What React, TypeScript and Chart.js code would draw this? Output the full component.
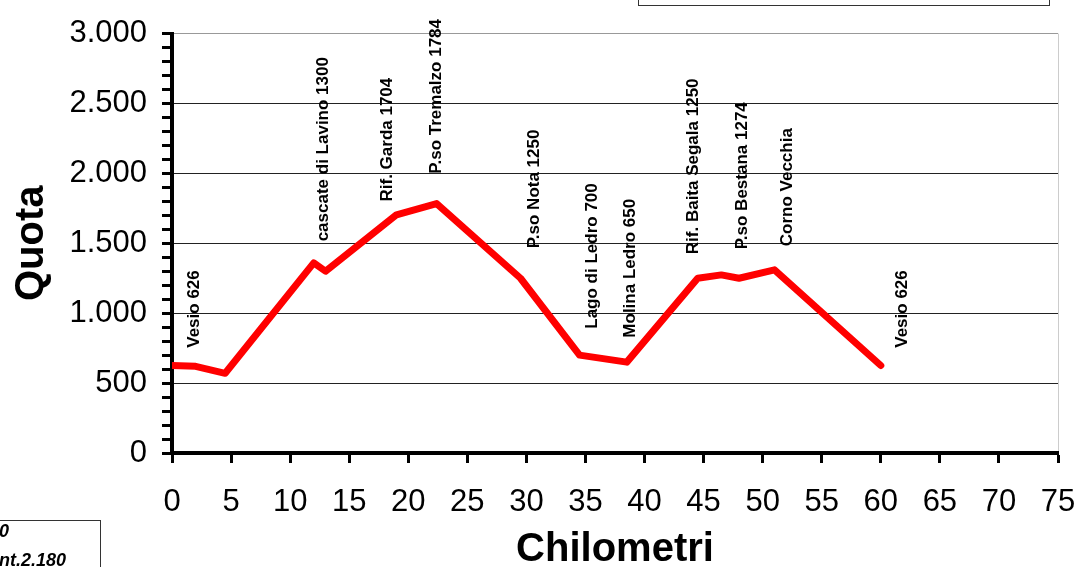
import React, { useEffect, useRef } from 'react';
import { Chart, registerables } from 'chart.js';

Chart.register(...registerables);

// Route profile: kilometres and altitude (m)
const km = [0, 2, 4.5, 12, 13, 19, 22.4, 29.5, 34.5, 38.5, 44.5, 46.5, 48, 51, 60];
const quota = [626, 620, 570, 1360, 1300, 1704, 1784, 1250, 700, 650, 1250, 1274, 1250, 1310, 626];

// Place labels (rotated text) anchored in data units
const placeNames = [
  'Vesio 626',
  'cascate di Lavino 1300',
  'Rif. Garda 1704',
  'P.so Tremalzo 1784',
  'P.so Nota 1250',
  'Lago di Ledro 700',
  'Molina Ledro 650',
  'Rif. Baita Segala 1250',
  'P.so Bestana 1274',
  'Corno Vecchia',
  'Vesio 626',
];
const placeKm = [1.9, 12.8, 18.2, 22.4, 30.7, 35.6, 38.8, 44.1, 48.3, 52.1, 61.8];
const placeQuota = [753, 1514, 1799, 1998, 1464, 889, 825, 1422, 1457, 1479, 753];

// Partially visible note box text
const noteLines = ['0', 'nt.2.180'];

const FONT = "'Liberation Sans', Arial, sans-serif";

const fmtThousands = (v: number) => {
  const s = String(Math.round(v));
  return s.replace(/\B(?=(\d{3})+(?!\d))/g, '.');
};

const labelsPlugin = {
  id: 'placeLabels',
  afterDatasetsDraw(chart: any) {
    const { ctx, scales } = chart;
    const xs = scales.x;
    const ys = scales.y;
    ctx.save();
    ctx.fillStyle = '#000';
    ctx.font = `bold 17px ${FONT}`;
    ctx.textAlign = 'left';
    ctx.textBaseline = 'middle';
    placeNames.forEach((name, i) => {
      const px = xs.getPixelForValue(placeKm[i]);
      const py = ys.getPixelForValue(placeQuota[i]);
      ctx.save();
      ctx.translate(px, py);
      ctx.rotate(-Math.PI / 2);
      ctx.fillText(name, 0, 0);
      ctx.restore();
    });
    ctx.restore();
  },
  afterDraw(chart: any) {
    const { ctx } = chart;
    ctx.save();
    ctx.strokeStyle = '#333';
    ctx.lineWidth = 1;
    ctx.strokeRect(638.5, -5, 411, 10.5);
    ctx.strokeRect(-5, 520.5, 105.5, 60);
    ctx.fillStyle = '#000';
    ctx.font = `italic bold 18px ${FONT}`;
    ctx.textAlign = 'left';
    ctx.textBaseline = 'alphabetic';
    ctx.fillText(noteLines[0], -1, 537);
    ctx.fillText(noteLines[1], -1, 566);
    ctx.restore();
  },
};

export default function App() {
  const canvasRef = useRef<HTMLCanvasElement | null>(null);

  useEffect(() => {
    if (!canvasRef.current) return;
    Chart.defaults.font.family = FONT;
    const chart = new Chart(canvasRef.current, {
      type: 'line',
      data: {
        datasets: [
          {
            data: km.map((k, i) => ({ x: k, y: quota[i] })),
            borderColor: '#FF0000',
            borderWidth: 7,
            pointRadius: 0,
            tension: 0,
            borderJoinStyle: 'round',
            borderCapStyle: 'round',
            fill: false,
          },
        ],
      },
      options: {
        animation: false,
        responsive: false,
        maintainAspectRatio: false,
        layout: { padding: { top: 31, right: 0, left: 0, bottom: 0 } },
        plugins: {
          legend: { display: false },
          tooltip: { enabled: false },
        },
        scales: {
          x: {
            type: 'linear',
            min: 0,
            max: 75,
            afterFit: (s: any) => {
              s.height = 114;
              s.paddingLeft = 0;
              s.paddingRight = 20;
            },
            ticks: {
              stepSize: 5,
              autoSkip: false,
              maxRotation: 0,
              color: '#000',
              padding: 21,
              font: { size: 31 },
            },
            grid: {
              drawOnChartArea: true,
              color: (c: any) => (c.tick && c.tick.value === 75 ? '#cccccc' : 'rgba(0,0,0,0)'),
              tickColor: '#000',
              tickLength: 10,
              tickWidth: 3,
              lineWidth: 1,
            },
            border: { display: true, color: '#000', width: 4 },
            title: {
              display: true,
              text: 'Chilometri',
              color: '#000',
              font: { size: 40, weight: 'bold', lineHeight: 0.6 },
              padding: { top: 0, bottom: 5 },
            },
          },
          y: {
            type: 'linear',
            min: 0,
            max: 3000,
            afterFit: (s: any) => {
              s.width = 172;
            },
            ticks: {
              stepSize: 100,
              autoSkip: false,
              color: '#000',
              padding: 15,
              font: { size: 31 },
              callback: (v: any) => (Number(v) % 500 === 0 ? fmtThousands(Number(v)) : ''),
            },
            grid: {
              drawOnChartArea: true,
              color: (c: any) => {
                const v = c.tick ? c.tick.value : -1;
                if (v === 3000) return '#999999';
                return v % 500 === 0 ? '#222222' : 'rgba(0,0,0,0)';
              },
              tickColor: '#000',
              tickLength: 10,
              tickWidth: 3,
              lineWidth: 1,
            },
            border: { display: true, color: '#000', width: 4 },
            title: {
              display: true,
              text: 'Quota',
              color: '#000',
              font: { size: 40, weight: 'bold', lineHeight: 1.2 },
              padding: { top: 8, bottom: 0 },
            },
          },
        },
      },
      plugins: [labelsPlugin],
    } as any);
    return () => chart.destroy();
  }, []);

  return (
    <div style={{ position: 'fixed', left: 0, top: 0, width: 1078, height: 567, background: '#fff' }}>
      <canvas ref={canvasRef} width={1078} height={567} style={{ width: 1078, height: 567, display: 'block' }} />
    </div>
  );
}
